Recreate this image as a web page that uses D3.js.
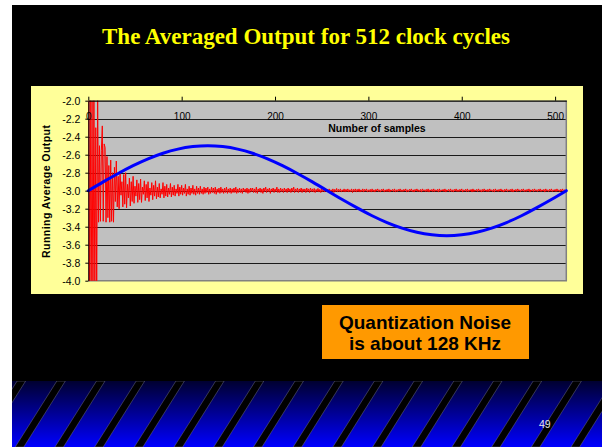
<!DOCTYPE html>
<html>
<head>
<meta charset="utf-8">
<script src="https://cdn.jsdelivr.net/npm/d3@7"></script>
<style>
  html, body { margin: 0; padding: 0; background: #ffffff; }
  svg { display: block; }
</style>
</head>
<body>
<svg id="slide" width="602" height="447"></svg>
<script>
// ---- chart content -------------------------------------------------------
const titleText = "The Averaged Output for 512 clock cycles";
const xTitle = "Number of samples";
const yTitle = "Running Average Output";
const xTickValues = [0, 100, 200, 300, 400, 500];
const xTickLabels = ["0", "100", "200", "300", "400", "500"];
const yTickValues = [-2.0, -2.2, -2.4, -2.6, -2.8, -3.0, -3.2, -3.4, -3.6, -3.8, -4.0];
const yTickLabels = ["-2.0", "-2.2", "-2.4", "-2.6", "-2.8", "-3.0", "-3.2", "-3.4", "-3.6", "-3.8", "-4.0"];

// reference input (one full period over the 512 samples), sampled every 16 samples
const sineSamples = [0, 16, 32, 48, 64, 80, 96, 112, 128, 144, 160, 176, 192, 208, 224, 240, 256,
                     272, 288, 304, 320, 336, 352, 368, 384, 400, 416, 432, 448, 464, 480, 496, 512];
const sineValues = [-3.000, -2.902, -2.809, -2.722, -2.646, -2.584, -2.538, -2.510, -2.500,
                    -2.510, -2.538, -2.584, -2.646, -2.722, -2.809, -2.902, -3.000,
                    -3.098, -3.191, -3.278, -3.354, -3.416, -3.462, -3.490, -3.500,
                    -3.490, -3.462, -3.416, -3.354, -3.278, -3.191, -3.098, -3.000];

// running average of the modulator output, one value per sample (index = sample number)
const averageValues = [
  -1.20, -4.80, -1.60, -4.60, -2.00, -4.50, -1.80, -4.30, -2.30, -4.10, -1.95, -3.35, -2.50, -3.34, -2.55, -2.28,
  -3.34, -2.48, -2.52, -3.35, -2.62, -3.30, -2.72, -3.35, -2.66, -3.34, -2.80, -3.35, -2.74, -3.12, -2.67, -3.18,
  -2.84, -3.20, -2.78, -3.05, -2.90, -3.18, -2.82, -3.15, -2.80, -3.19, -2.93, -3.08, -2.86, -3.17, -2.90, -3.12,
  -2.84, -3.14, -2.95, -3.06, -2.88, -3.13, -2.92, -3.10, -2.87, -3.13, -2.96, -3.04, -2.89, -3.11, -2.93, -3.08,
  -2.90, -3.12, -2.97, -3.05, -2.91, -3.10, -2.94, -3.06, -2.89, -3.09, -2.96, -3.07, -2.92, -3.08, -2.98, -3.04,
  -2.91, -3.08, -2.95, -3.06, -2.93, -3.07, -2.97, -3.04, -2.92, -3.07, -2.96, -3.05, -2.94, -3.06, -2.98, -3.03,
  -2.93, -3.06, -2.96, -3.04, -2.94, -3.05, -2.97, -3.03, -2.93, -3.06, -2.98, -3.04, -2.95, -3.05, -2.97, -3.03,
  -2.94, -3.04, -2.98, -3.05, -2.95, -3.03, -2.97, -3.04, -2.95, -3.03, -2.98, -3.04, -2.96, -3.03, -2.97, -3.02,
  -2.96, -3.04, -2.98, -3.03, -2.96, -3.02, -2.97, -3.03, -2.96, -3.04, -2.98, -3.02, -2.97, -3.03, -2.96, -3.02,
  -2.98, -3.03, -2.97, -3.02, -2.96, -3.03, -2.98, -3.02, -2.97, -3.03, -2.98, -3.02, -2.97, -3.02, -2.96, -3.03,
  -2.98, -3.02, -2.97, -3.02, -2.98, -3.03, -2.97, -3.01, -2.98, -3.02, -2.97, -3.03, -2.98, -3.02, -2.97, -3.01,
  -2.97, -3.02, -2.98, -3.02, -2.96, -3.03, -2.98, -3.01, -2.97, -3.02, -2.98, -3.03, -2.97, -3.01, -2.96, -3.02,
  -2.98, -3.01, -2.97, -3.03, -2.98, -3.01, -2.97, -3.02, -2.98, -3.01, -2.96, -3.02, -2.98, -3.02, -2.97, -3.01,
  -2.98, -3.02, -2.97, -3.01, -2.98, -3.02, -2.97, -3.01, -2.98, -3.02, -2.97, -3.01, -2.96, -3.02, -2.98, -3.01,
  -2.97, -3.02, -2.98, -3.01, -2.97, -3.02, -2.98, -3.01, -2.98, -3.02, -2.97, -3.01, -2.98, -3.02, -2.97, -3.01,
  -2.98, -3.015, -2.975, -3.02, -2.985, -3.01, -2.975, -3.015, -2.985, -3.02, -2.98, -3.01, -2.985, -3.015, -2.975, -3.01,
  -2.985, -3.01, -2.98, -3.015, -2.99, -3.01, -2.98, -3.02, -2.985, -3.01, -2.975, -3.015, -2.985, -3.01, -2.98, -3.015,
  -2.99, -3.01, -2.98, -3.015, -2.985, -3.01, -2.98, -3.015, -2.99, -3.01, -2.98, -3.02, -2.985, -3.01, -2.98, -3.015,
  -2.985, -3.01, -2.98, -3.015, -2.99, -3.01, -2.98, -3.015, -2.985, -3.005, -2.98, -3.015, -2.99, -3.01, -2.985, -3.015,
  -2.98, -3.01, -2.99, -3.015, -2.985, -3.005, -2.98, -3.01, -2.99, -3.015, -2.985, -3.005, -2.98, -3.015, -2.99, -3.01,
  -2.985, -3.01, -2.98, -3.015, -2.99, -3.005, -2.985, -3.01, -2.98, -3.015, -2.99, -3.01, -2.985, -3.005, -2.98, -3.01,
  -2.99, -3.01, -2.985, -3.005, -2.98, -3.015, -2.99, -3.01, -2.985, -3.005, -2.98, -3.01, -2.99, -3.015, -2.985, -3.005,
  -2.98, -3.01, -2.99, -3.01, -2.985, -3.015, -2.98, -3.005, -2.99, -3.01, -2.985, -3.01, -2.98, -3.015, -2.99, -3.005,
  -2.985, -3.01, -2.98, -3.01, -2.99, -3.005, -2.985, -3.015, -2.98, -3.01, -2.99, -3.005, -2.985, -3.01, -2.98, -3.015,
  -2.99, -3.005, -2.985, -3.01, -2.98, -3.01, -2.99, -3.015, -2.985, -3.005, -2.98, -3.01, -2.99, -3.01, -2.985, -3.005,
  -2.98, -3.015, -2.99, -3.005, -2.985, -3.01, -2.98, -3.01, -2.99, -3.005, -2.985, -3.015, -2.98, -3.01, -2.99, -3.005,
  -2.985, -3.01, -2.98, -3.005, -2.99, -3.015, -2.985, -3.01, -2.98, -3.005, -2.99, -3.01, -2.985, -3.01, -2.98, -3.005,
  -2.99, -3.01, -2.985, -3.015, -2.98, -3.005, -2.99, -3.01, -2.985, -3.005, -2.98, -3.01, -2.99, -3.015, -2.985, -3.005,
  -2.98, -3.01, -2.99, -3.005, -2.985, -3.01, -2.98, -3.015, -2.99, -3.005, -2.985, -3.01, -2.98, -3.005, -2.99, -3.01,
  -2.985, -3.005, -2.98, -3.01, -2.99, -3.01, -2.985, -3.005, -2.98, -3.015, -2.99, -3.005, -2.985, -3.01, -2.98, -3.005,
  -2.99, -3.01, -2.985, -3.005, -2.98, -3.01, -2.99, -3.005, -2.985, -3.015, -2.98, -3.005, -2.99, -3.01, -2.985, -3.005,
  -2.98, -3.01, -2.99, -3.005, -2.985, -3.01, -2.98, -3.005, -2.99, -3.01, -2.985, -3.005, -2.98, -3.01, -2.99, -3.00
];

const noteLines = ["Quantization Noise", "is about 128 KHz"];
const pageNumber = "49";

// ---- drawing ---------------------------------------------------------------
const svg = d3.select("#slide");
const sans = "'Liberation Sans', Arial, sans-serif";
const defs = svg.append("defs");

// slide background
svg.append("rect").attr("x", 12).attr("y", 5).attr("width", 590).attr("height", 442).attr("fill", "#000000");

// title
svg.append("text")
  .attr("x", 306).attr("y", 43.5)
  .attr("text-anchor", "middle")
  .attr("font-family", "'Liberation Serif', 'Times New Roman', serif")
  .attr("font-weight", "bold")
  .attr("font-size", 23)
  .attr("fill", "#ffff00")
  .text(titleText);

// chart frame
svg.append("rect").attr("x", 31).attr("y", 86).attr("width", 552).attr("height", 208).attr("fill", "#ffff99");

const plot = { left: 88.3, right: 566.3, top: 100.7, bottom: 280.7 };
const x = d3.scaleLinear().domain([0, 512]).range([plot.left, plot.right]);
const y = d3.scaleLinear().domain([-2, -4]).range([plot.top, plot.bottom]);

svg.append("rect")
  .attr("x", plot.left).attr("y", plot.top)
  .attr("width", plot.right - plot.left).attr("height", plot.bottom - plot.top)
  .attr("fill", "#c0c0c0");

// horizontal gridlines
svg.append("g").selectAll("line")
  .data(yTickValues.filter(v => v < -2 && v > -4))
  .join("line")
  .attr("x1", plot.left).attr("x2", plot.right)
  .attr("y1", d => Math.round(y(d)) + 0.5).attr("y2", d => Math.round(y(d)) + 0.5)
  .attr("stroke", "#1a1a1a").attr("stroke-width", 1);

// plot border (right and bottom)
svg.append("path")
  .attr("d", `M${plot.right},${plot.top}V${plot.bottom}H${plot.left}`)
  .attr("fill", "none").attr("stroke", "#808080").attr("stroke-width", 1.5);

defs.append("clipPath").attr("id", "plotClip")
  .append("rect")
  .attr("x", plot.left).attr("y", plot.top)
  .attr("width", plot.right - plot.left).attr("height", plot.bottom - plot.top);

// running average trace
const avgLine = d3.line().x((d, i) => x(i)).y(d => y(d));
svg.append("path")
  .attr("clip-path", "url(#plotClip)")
  .attr("d", avgLine(averageValues))
  .attr("fill", "none").attr("stroke", "#ff0000").attr("stroke-width", 1);

// reference sine
const sineLine = d3.line()
  .x((d, i) => x(sineSamples[i])).y(d => y(d))
  .curve(d3.curveNatural);
svg.append("path")
  .attr("d", sineLine(sineValues))
  .attr("fill", "none").attr("stroke", "#0000ff").attr("stroke-width", 3)
  .attr("stroke-linecap", "round");

// x axis along the top of the plot, labels below the line
const xAxis = svg.append("g")
  .attr("transform", `translate(0,${plot.top})`)
  .call(d3.axisBottom(x).tickValues(xTickValues).tickFormat((d, i) => xTickLabels[i])
    .tickSizeInner(-4).tickSizeOuter(0).tickPadding(12));
xAxis.select(".domain").attr("stroke", "#000").attr("stroke-width", 1.2);
xAxis.selectAll(".tick line").attr("stroke", "#000");
xAxis.selectAll("text").attr("font-family", sans).attr("font-size", 10).attr("fill", "#000");

// y axis
const yAxis = svg.append("g")
  .attr("transform", `translate(${plot.left},0)`)
  .call(d3.axisLeft(y).tickValues(yTickValues).tickFormat((d, i) => yTickLabels[i])
    .tickSizeInner(3).tickSizeOuter(0).tickPadding(5));
yAxis.select(".domain").attr("stroke", "#000");
yAxis.selectAll(".tick line").attr("stroke", "#000");
yAxis.selectAll("text").attr("font-family", sans).attr("font-size", 10.5).attr("fill", "#000");

// axis titles
svg.append("text")
  .attr("x", 377).attr("y", 131.5)
  .attr("text-anchor", "middle")
  .attr("font-family", sans).attr("font-weight", "bold").attr("font-size", 10.5)
  .attr("fill", "#000")
  .text(xTitle);

svg.append("text")
  .attr("transform", "translate(50,191.5) rotate(-90)")
  .attr("text-anchor", "middle")
  .attr("font-family", sans).attr("font-weight", "bold").attr("font-size", 10.5)
  .attr("textLength", 133).attr("lengthAdjust", "spacing")
  .attr("fill", "#000")
  .text(yTitle);

// note box
svg.append("rect").attr("x", 322).attr("y", 305).attr("width", 207).attr("height", 54).attr("fill", "#ff9900");
svg.append("text")
  .attr("text-anchor", "middle")
  .attr("font-family", sans).attr("font-weight", "bold").attr("font-size", 19)
  .attr("fill", "#000")
  .selectAll("tspan")
  .data(noteLines)
  .join("tspan")
  .attr("x", 425)
  .attr("y", (d, i) => 328.5 + i * 21.5)
  .text(d => d);

// striped footer band
const grad = defs.append("linearGradient").attr("id", "bandGrad")
  .attr("x1", 0).attr("y1", 0).attr("x2", 0).attr("y2", 1);
grad.append("stop").attr("offset", "0%").attr("stop-color", "#000030");
grad.append("stop").attr("offset", "100%").attr("stop-color", "#0000ff");

const band = { left: 12, right: 602, top: 381, bottom: 447 };
defs.append("clipPath").attr("id", "bandClip")
  .append("rect")
  .attr("x", band.left).attr("y", band.top)
  .attr("width", band.right - band.left).attr("height", band.bottom - band.top);

const bandG = svg.append("g").attr("clip-path", "url(#bandClip)");
bandG.append("rect")
  .attr("x", band.left).attr("y", band.top)
  .attr("width", band.right - band.left).attr("height", band.bottom - band.top)
  .attr("fill", "url(#bandGrad)");

const stripePitch = 39.7, stripeWidth = 8.5, stripeLean = 0.63;
const rise = band.bottom - band.top;
bandG.selectAll("path.stripe")
  .data(d3.range(-2, 17))
  .join("path")
  .attr("class", "stripe")
  .attr("d", k => {
    const xb = 19.5 + k * stripePitch - stripeWidth / 2;
    const xt = xb + stripeLean * rise;
    return `M${xb},${band.bottom}L${xt},${band.top}L${xt + stripeWidth},${band.top}L${xb + stripeWidth},${band.bottom}Z`;
  })
  .attr("fill", "#000000")
  .attr("stroke", "#6a6a8a").attr("stroke-width", 0.5);

svg.append("text")
  .attr("x", 539).attr("y", 428)
  .attr("font-family", sans).attr("font-size", 10.5)
  .attr("fill", "#e6e6e6")
  .text(pageNumber);
</script>
</body>
</html>
